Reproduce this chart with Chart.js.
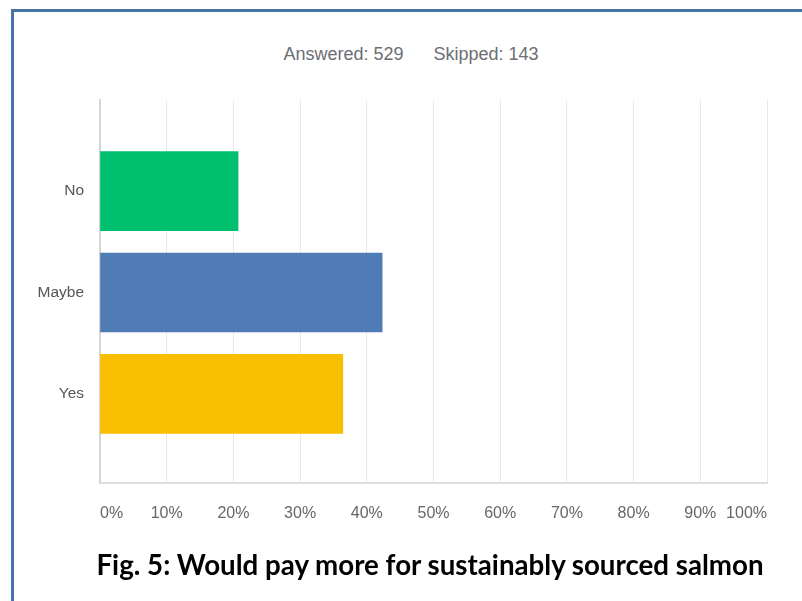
<!DOCTYPE html>
<html>
<head>
<meta charset="utf-8">
<script src="https://cdn.jsdelivr.net/npm/chart.js@4"></script>
<style>
  html, body { margin: 0; padding: 0; background: #fff; }
  body { width: 802px; height: 601px; position: relative; overflow: hidden; }
  .frame {
    position: absolute; left: 11px; top: 9px; right: -10px; bottom: -10px;
    border-left: 3px solid #4672a8; border-top: 3px solid #4672a8;
  }
  .summary {
    position: absolute; left: 0; width: 822px; top: 44px; text-align: center;
    font: 18px "Liberation Sans", Arial, sans-serif; color: #6b6e73;
    white-space: pre;
  }
  .caption {
    position: absolute; left: 0; width: 860px; top: 548px; text-align: center;
    font: bold 27.7px Lato, "Open Sans", sans-serif; color: #000;
  }
  #chart { position: absolute; left: 0; top: 0; }
</style>
</head>
<body>
<div class="frame"></div>
<div class="summary">Answered: 529      Skipped: 143</div>
<canvas id="chart" width="802" height="601"></canvas>
<div class="caption">Fig. 5: Would pay more for sustainably sourced salmon</div>
<script>
const answers = ["No", "Maybe", "Yes"];
const shares = [20.7, 42.3, 36.4];
const barColors = ["#00bf6f", "#507cb6", "#f8be00"];
const percentTicks = [0, 10, 20, 30, 40, 50, 60, 70, 80, 90, 100];

const fontFamily = "'Liberation Sans', Arial, sans-serif";

function drawChart() {
  const canvas = document.getElementById("chart");

  new Chart(canvas.getContext("2d"), {
    type: "bar",
    data: {
      datasets: [{
        label: "Responses",
        data: shares.map((v, i) => ({ x: v, y: i })),
        backgroundColor: barColors,
        borderWidth: 0,
        barThickness: 79
      }]
    },
    options: {
      indexAxis: "y",
      responsive: false,
      animation: false,
      layout: { padding: { top: 100, right: 35, bottom: 68, left: 20 } },
      scales: {
        x: {
          type: "linear",
          min: 0, max: 100,
          afterBuildTicks: scale => { scale.ticks = percentTicks.map(v => ({ value: v })); },
          afterFit: scale => { scale.height = 50; },
          grid: { color: "#e9e9e9", drawTicks: false },
          border: { color: "#dedede", width: 2 },
          ticks: {
            align: "inner",
            padding: 21,
            color: "#666",
            font: { family: fontFamily, size: 16 },
            callback: v => v + "%"
          }
        },
        y: {
          // numeric index axis so the bars sit where they do inside the plot
          type: "linear",
          offset: false,
          reverse: true,
          min: -0.9, max: 2.88,
          afterBuildTicks: scale => { scale.ticks = answers.map((_, i) => ({ value: i })); },
          afterFit: scale => { scale.width = 80; },
          grid: { display: false, drawTicks: false, offset: false },
          border: { display: true, color: "#d6d6d6", width: 2 },
          ticks: {
            padding: 16,
            color: "#555",
            font: { family: fontFamily, size: 15.5 },
            callback: v => answers[v]
          }
        }
      },
      plugins: {
        legend: { display: false },
        title: { display: false },
        tooltip: { enabled: false }
      }
    }
  });
}

document.addEventListener("DOMContentLoaded", drawChart);
</script>
</body>
</html>
